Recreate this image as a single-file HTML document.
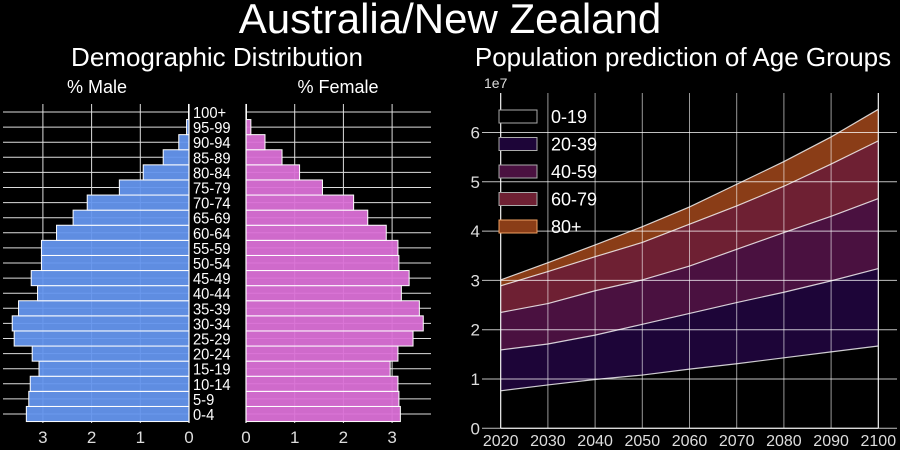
<!DOCTYPE html>
<html><head><meta charset="utf-8"><style>
html,body{margin:0;padding:0;background:#000;}
svg{display:block;font-family:"Liberation Sans",sans-serif;}
</style></head><body>
<svg id="c" width="900" height="450" viewBox="0 0 900 450">
<rect width="900" height="450" fill="#000"/>
<text x="450" y="33" font-size="42" fill="#fff" text-anchor="middle">Australia/New Zealand</text>
<text x="217" y="66" font-size="26" fill="#fff" text-anchor="middle">Demographic Distribution</text>
<text x="683" y="66" font-size="26" fill="#fff" text-anchor="middle">Population prediction of Age Groups</text>
<text x="97" y="93" font-size="18" fill="#fff" text-anchor="middle">% Male</text>
<text x="338" y="93" font-size="18" fill="#fff" text-anchor="middle">% Female</text>
<text x="484" y="88" font-size="14" fill="#ddd">1e7</text>
<g id="pyr"></g>
<g id="area"></g>
</svg>
<script>
const ageGroups=["0-4","5-9","10-14","15-19","20-24","25-29","30-34","35-39","40-44","45-49","50-54","55-59","60-64","65-69","70-74","75-79","80-84","85-89","90-94","95-99","100+"];
const maleValues=[3.34,3.29,3.26,3.08,3.22,3.59,3.63,3.50,3.11,3.24,3.03,3.03,2.72,2.38,2.09,1.43,0.94,0.53,0.21,0.05,0.01];
const femaleValues=[3.17,3.14,3.12,2.96,3.12,3.43,3.64,3.56,3.19,3.35,3.14,3.12,2.88,2.50,2.21,1.57,1.10,0.74,0.39,0.10,0.01];
const pyrTicks=[0,1,2,3];
const years=[2020,2030,2040,2050,2060,2070,2080,2090,2100];
const seriesNames=["0-19","20-39","40-59","60-79","80+"];
const g0=[0.76,0.88,0.99,1.08,1.20,1.31,1.43,1.55,1.67];
const g1=[0.83,0.83,0.90,1.03,1.13,1.24,1.33,1.44,1.57];
const g2=[0.76,0.82,0.90,0.90,0.96,1.08,1.21,1.31,1.42];
const g3=[0.54,0.65,0.69,0.76,0.85,0.88,0.94,1.06,1.17];
const g4=[0.12,0.18,0.24,0.32,0.35,0.44,0.50,0.55,0.64];
const yTicks=[0,1,2,3,4,5,6];
const colors=["#000000","#1d0538","#4a1140","#6e2033","#8a3d17"];
const NS="http://www.w3.org/2000/svg";
function mk(p,t,a){const e=document.createElementNS(NS,t);for(const k in a)e.setAttribute(k,a[k]);p.appendChild(e);return e;}
const pyr=document.getElementById('pyr');
const mx=v=>189-v*48.7, fx=v=>246+v*48.7;
const rowY=i=>414-i*15.1;
const TOP=104,BOT=423;
pyrTicks.forEach(t=>{
 let l=mk(pyr,'line',{x1:mx(t),x2:mx(t),y1:TOP,y2:BOT,stroke:'#ddd','stroke-width':1});
 
 l=mk(pyr,'line',{x1:fx(t),x2:fx(t),y1:TOP,y2:BOT,stroke:'#ddd','stroke-width':1});
 
 let tx=mk(pyr,'text',{x:mx(t),y:443,'font-size':17,fill:'#ddd','text-anchor':'middle'});tx.textContent=t;
 
 tx=mk(pyr,'text',{x:fx(t),y:443,'font-size':17,fill:'#ddd','text-anchor':'middle'});tx.textContent=t;
 
});
ageGroups.forEach((g,i)=>{
 const y=rowY(i);
 let l=mk(pyr,'line',{x1:3,x2:189,y1:y,y2:y,stroke:'#ddd','stroke-width':1});
 
 l=mk(pyr,'line',{x1:246,x2:431,y1:y,y2:y,stroke:'#ddd','stroke-width':1});
 
});
ageGroups.forEach((g,i)=>{
 const y=rowY(i),h=15.1;
 let r=mk(pyr,'rect',{x:mx(maleValues[i]),y:y-h/2,width:maleValues[i]*48.7,height:h,fill:'#6495ed',stroke:'#fff','stroke-width':1,'fill-opacity':0.95});
 
 r=mk(pyr,'rect',{x:246,y:y-h/2,width:femaleValues[i]*48.7,height:h,fill:'#da70d6',stroke:'#fff','stroke-width':1,'fill-opacity':0.95});
 
 const t=mk(pyr,'text',{x:193,y:y+6,'font-size':16,fill:'#fff',transform:'translate(193 0) scale(0.92 1) translate(-193 0)'});t.textContent=g;
 
});
mk(pyr,'line',{x1:189,x2:189,y1:TOP,y2:BOT,stroke:'#fff','stroke-width':1.2});
mk(pyr,'line',{x1:246,x2:246,y1:TOP,y2:BOT,stroke:'#fff','stroke-width':1.2});
const area=document.getElementById('area');
const X=yr=>500.7+(yr-2020)*(377.6/80), Y=v=>428.3-v*49.3;
const groups=[g0,g1,g2,g3,g4];
let base=years.map(()=>0);
const tops=[];
groups.forEach((g,k)=>{
 const top=base.map((b,i)=>b+g[i]);
 let d='M'+years.map((yr,i)=>X(yr)+','+Y(top[i])).join('L');
 for(let i=years.length-1;i>=0;i--)d+='L'+X(years[i])+','+Y(base[i]);
 d+='Z';
 const p=mk(area,'path',{d:d,fill:colors[k]});
 
 tops.push(top);base=top;
});
yTicks.forEach(t=>{
 const l=mk(area,'line',{x1:482,x2:897,y1:Y(t),y2:Y(t),stroke:'#fff','stroke-width':1,'stroke-opacity':0.75});
 
 const tx=mk(area,'text',{x:480,y:Y(t)+6,'font-size':17,fill:'#ddd','text-anchor':'end'});tx.textContent=t;
 
});
years.forEach(yr=>{
 const l=mk(area,'line',{x1:X(yr),x2:X(yr),y1:93,y2:428,stroke:'#fff','stroke-width':1,'stroke-opacity':0.6});
 
 const tx=mk(area,'text',{x:X(yr),y:446,'font-size':16,fill:'#ddd','text-anchor':'middle'});tx.textContent=yr;
 
});
tops.forEach((top,k)=>{
 const p=mk(area,'polyline',{points:years.map((yr,i)=>X(yr)+','+Y(top[i])).join(' '),fill:'none',stroke:'#fff','stroke-opacity':0.8,'stroke-width':1.2});
 
});
mk(area,'line',{x1:500.7,x2:500.7,y1:93,y2:428.3,stroke:'#fff'});
mk(area,'line',{x1:500.7,x2:878.3,y1:428.3,y2:428.3,stroke:'#fff'});
mk(area,'line',{x1:878.3,x2:878.3,y1:93,y2:428.3,stroke:'#fff'});
seriesNames.forEach((n,k)=>{
 const y=110+k*27.5;
 const r=mk(area,'rect',{x:499,y:y,width:38,height:13,fill:colors[k],stroke:k===4?'#f0a060':'#aaa','stroke-width':1});
 
 const t=mk(area,'text',{x:551,y:y+13,'font-size':18,fill:'#fff'});t.textContent=n;
 
});
</script>
</body></html>
